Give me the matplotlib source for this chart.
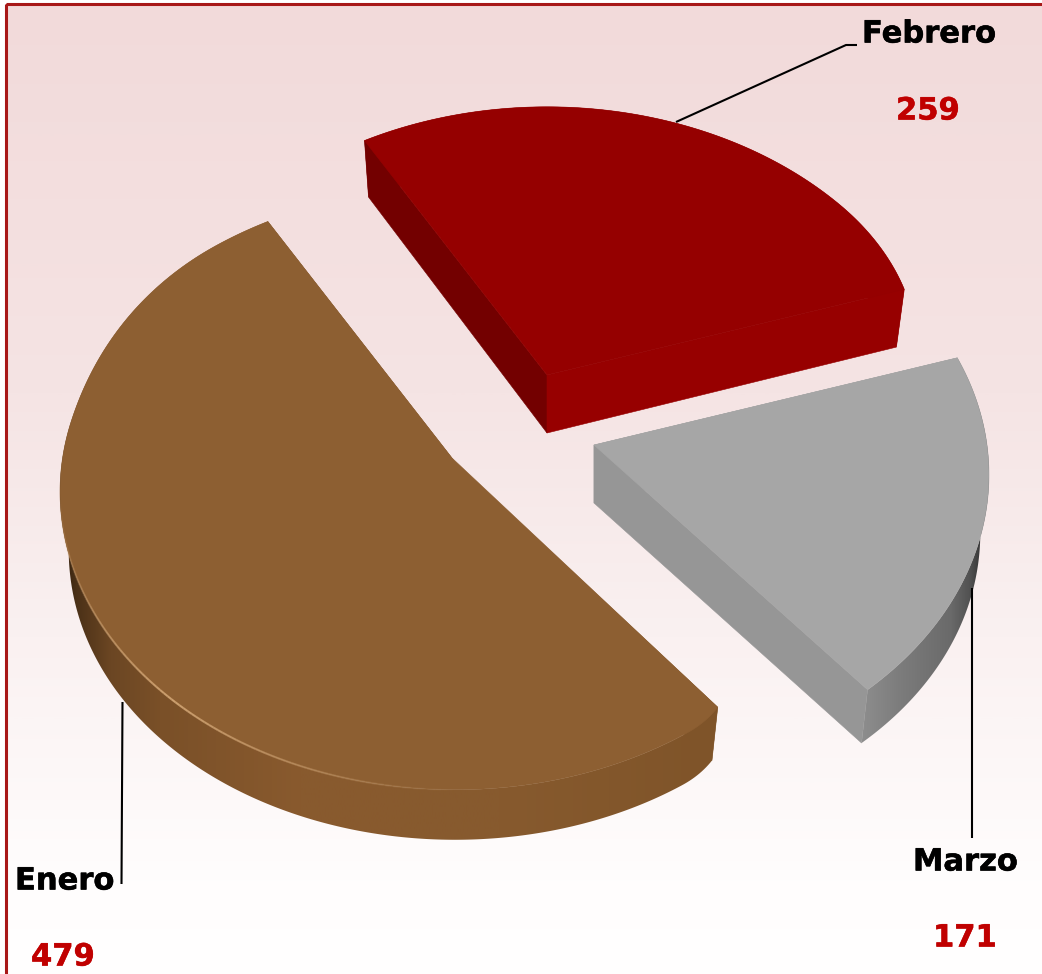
import numpy as np
import matplotlib
matplotlib.use("Agg")
import matplotlib.pyplot as plt
import matplotlib.patheffects as pe
from matplotlib.collections import LineCollection
from matplotlib.colors import to_rgb, LinearSegmentedColormap
from matplotlib.patches import Polygon, Rectangle

# ---- data ----
months = ["Febrero", "Marzo", "Enero"]
values = [259, 171, 479]

# ---- styling / layout ----
START_ANGLE = 120.3
RX, RY, PERSP = 393.0, 295.0, 0.10     # disc projection
DEPTH, SHRINK = 58.0, 0.978            # extrusion
apexes = {"Febrero": (547, 375), "Marzo": (594, 445), "Enero": (455, 462)}
inner_corner = {"Febrero": (547, 375), "Marzo": (594, 445), "Enero": (452, 458)}
tip_round = {"Febrero": (0.017, 20.0), "Marzo": (0.0, 1.0), "Enero": (0.015, 6.0)}
tip_trim = {"Febrero": 0.0, "Marzo": 0.0, "Enero": 1.2}
top_colors = {"Febrero": "#950000", "Marzo": "#A6A6A6", "Enero": "#8D5F32"}
start_face = {"Febrero": "#730000", "Marzo": "#A0A0A0", "Enero": "#7F5429"}
end_face = {"Febrero": "#970000", "Marzo": "#969696", "Enero": "#85582D"}
side_stops = {
    "Febrero": ([880, 910], ["#8A0000", "#8A0000"]),
    "Marzo": ([858, 900, 950, 970, 985],
              ["#8F8F8F", "#7C7C7C", "#6A6A6A", "#505050", "#2A2A2A"]),
    "Enero": ([60, 75, 110, 160, 300, 500, 718],
              ["#2A1A0A", "#4A3017", "#6B4623", "#7A5028", "#895A2E", "#875A2E", "#7F5429"]),
}
label_pos = {"Febrero": (862, 42.5), "Marzo": (913, 870.5), "Enero": (15, 889.5)}
value_pos = {"Febrero": (896, 119.5), "Marzo": (933, 946.5), "Enero": (31, 965.5)}
leaders = {
    "Febrero": ([676, 846, 857], [122, 45, 45]),
    "Marzo": ([972, 972], [588, 838]),
    "Enero": ([122.5, 121.5], [702, 884]),
}

W, H = 1042, 974
fig = plt.figure(figsize=(W / 100, H / 100), dpi=100, facecolor="white")
ax = fig.add_axes([0, 0, 1, 1])
ax.axis("off")

# background
grad = LinearSegmentedColormap.from_list(
    "bg", [(0, "#F2DADA"), (0.4, "#F5E4E4"), (0.65, "#FAF1F1"), (0.9, "#FFFDFD"), (1, "#FFFFFF")])
ax.imshow(np.linspace(0, 1, 512)[:, None], cmap=grad, vmin=0, vmax=1, aspect="auto",
          extent=(6, W + 5, H + 5, 4), zorder=0)
ax.add_patch(Rectangle((6, 4), W, H, fill=False, ec="#A81818", lw=2.2, zorder=1))


def project(theta_deg, radius, apex, lower=False):
    th = np.radians(theta_deg)
    u, v = radius * np.cos(th), radius * np.sin(th)
    w = 1 + PERSP * v
    x, y = RX * u / w, -RY * v / w
    if lower:
        depth = DEPTH - 2 * v**2 - 6 * np.minimum(v, 0)**2
        return apex[0] + SHRINK * x, apex[1] + y + depth
    return apex[0] + x, apex[1] + y


def rim_radius(name, thetas, a1):
    """Outer radius along the arc: softened front tip, slight bulge at the Enero back edge."""
    e, d = tip_round[name]
    delta = np.abs(thetas - thetas[0]) if name == "Enero" else np.abs(thetas - a1)
    r = 1 - e * np.clip(1 - delta / d, 0, 1)**2
    if name == "Enero":
        back = np.mod(thetas, 360)
        t = np.clip((172 - back) / 42, 0, 1) * (back > 100)
        r = r + 0.028 * t * t * (3 - 2 * t)
    return r


def lerp_colors(xs, stops, colors):
    rgb = np.array([to_rgb(c) for c in colors])
    return np.column_stack([np.interp(xs, stops, rgb[:, i]) for i in range(3)])


spans = 360 * np.array(values) / np.sum(values)
ends = START_ANGLE - np.cumsum(spans)
starts = ends + spans

for z, (name, a0, a1) in enumerate(zip(months, starts, ends)):
    apex = apexes[name]
    thetas = np.linspace(a0 - tip_trim[name], a1, 400)
    rad = rim_radius(name, thetas, a1)
    tx, ty = project(thetas, rad, apex)
    bx, by = project(thetas, rad, apex, lower=True)
    base = 10 + z * 10
    ax_bot = (apex[0], apex[1] + DEPTH)

    # curved side, smooth horizontal shading clipped to the rim band
    band = Polygon(np.vstack([np.column_stack([tx, ty]), np.column_stack([bx, by])[::-1]]),
                   closed=True, transform=ax.transData, fc="none", ec="none")
    ax.add_patch(band)
    xs = np.linspace(min(tx.min(), bx.min()), max(tx.max(), bx.max()), 600)
    shade = lerp_colors(xs, *side_stops[name])[None, :, :]
    im = ax.imshow(shade, aspect="auto", interpolation="bilinear", zorder=base,
                   extent=(xs[0], xs[-1], max(ty.max(), by.max()), min(ty.min(), by.min())))
    im.set_clip_path(band)

    # radial faces
    ax.add_patch(Polygon([apex, (tx[0], ty[0]), (bx[0], by[0]), ax_bot],
                         fc=start_face[name], ec=start_face[name], lw=0.4, zorder=base + 1))
    ax.add_patch(Polygon([apex, (tx[-1], ty[-1]), (bx[-1], by[-1]), ax_bot],
                         fc=end_face[name], ec=end_face[name], lw=0.4, zorder=base + 2))

    # top face
    ax.add_patch(Polygon(np.vstack([[inner_corner[name]], np.column_stack([tx, ty])]), closed=True,
                         fc=top_colors[name], ec=top_colors[name], lw=0.4, zorder=base + 3))

    # specular rim on the large slice
    if name == "Enero":
        th = np.linspace(-175, -85, 120)
        hx, hy = project(th, 1.0, apex)
        segs = [[(hx[i], hy[i]), (hx[i + 1], hy[i + 1])] for i in range(len(th) - 1)]
        alpha = np.clip(1 - np.abs(th[:-1] + 132) / 42, 0, 1) * 0.75
        rgba = [(0.88, 0.70, 0.50, a) for a in alpha]
        ax.add_collection(LineCollection(segs, colors=rgba, linewidths=1.5, zorder=base + 4))

# leaders and labels
for name, value in zip(months, values):
    lx, ly = leaders[name]
    ax.plot(lx, ly, color="black", lw=1.5, zorder=60, solid_capstyle="butt")
    ax.text(*label_pos[name], name, fontsize=22, fontweight="bold", color="black",
            family="DejaVu Sans", ha="left", va="baseline", zorder=61,
            path_effects=[pe.withStroke(linewidth=0.4, foreground="black")])
    ax.text(*value_pos[name], str(value), fontsize=22, fontweight="bold", color="#C00000",
            family="DejaVu Sans", ha="left", va="baseline", zorder=61,
            path_effects=[pe.withStroke(linewidth=0.4, foreground="#C00000")])

ax.set_xlim(0, W)
ax.set_ylim(H, 0)
fig.savefig("out.png", dpi=100, facecolor="white")
